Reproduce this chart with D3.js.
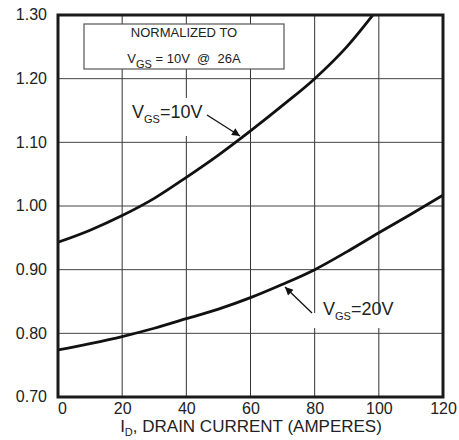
<!DOCTYPE html>
<html>
<head>
<meta charset="utf-8">
<script src="https://cdn.jsdelivr.net/npm/d3@7"></script>
<style>
  body { margin: 0; background: #fff; }
  svg { font-family: "Liberation Sans", Arial, sans-serif; }
</style>
</head>
<body>
<svg id="chart"></svg>
<script>
// values
const current = [0, 10, 20, 30, 40, 50, 60, 70, 80, 90, 100, 110, 120];
const vgs10 = [0.943, 0.962, 0.985, 1.012, 1.045, 1.080, 1.118, 1.158, 1.200, 1.250, 1.312];
const vgs20 = [0.774, 0.784, 0.795, 0.808, 0.823, 0.838, 0.856, 0.877, 0.900, 0.928, 0.958, 0.987, 1.017];
const xTicks = [0, 20, 40, 60, 80, 100, 120];
const yTicks = [0.70, 0.80, 0.90, 1.00, 1.10, 1.20, 1.30];

const width = 459;
const height = 440;
const margin = { top: 15, right: 16, bottom: 43, left: 58 };

const svg = d3.select("#chart").attr("width", width).attr("height", height);

const x = d3.scaleLinear().domain([0, 120]).range([margin.left, width - margin.right]);
const y = d3.scaleLinear().domain([0.7, 1.3]).range([height - margin.bottom, margin.top]);

// grid
svg.append("g")
  .selectAll("line")
  .data(xTicks.slice(1, -1))
  .join("line")
  .attr("x1", (d) => x(d)).attr("x2", (d) => x(d))
  .attr("y1", y(1.3)).attr("y2", y(0.7))
  .attr("stroke", "#333").attr("stroke-width", 1);

svg.append("g")
  .selectAll("line")
  .data(yTicks.slice(1, -1))
  .join("line")
  .attr("x1", x(0)).attr("x2", x(120))
  .attr("y1", (d) => y(d)).attr("y2", (d) => y(d))
  .attr("stroke", "#444").attr("stroke-width", 1);

// axes (labels only)
const yAxis = d3.axisLeft(y).tickValues(yTicks).tickFormat(d3.format(".2f")).tickSize(0).tickPadding(11);
const gy = svg.append("g").attr("transform", `translate(${margin.left},0)`).call(yAxis);
gy.select(".domain").remove();
gy.selectAll("text").attr("font-size", 16).attr("fill", "#222").attr("font-family", "Liberation Sans, Arial, sans-serif").attr("dy", "0.3em");

const xAxis = d3.axisBottom(x).tickValues(xTicks).tickSize(0).tickPadding(6);
const gx = svg.append("g").attr("transform", `translate(0,${height - margin.bottom})`).call(xAxis);
gx.select(".domain").remove();
gx.selectAll("text").attr("font-size", 16).attr("fill", "#222").attr("font-family", "Liberation Sans, Arial, sans-serif")
  .attr("dx", (d) => (d === 0 ? 4 : 0));

// axis title
const xt = svg.append("text")
  .attr("x", 251).attr("y", 432)
  .attr("text-anchor", "middle")
  .attr("font-size", 17).attr("fill", "#222");
xt.append("tspan").text("I");
xt.append("tspan").attr("font-size", 11).attr("dy", 4).text("D");
xt.append("tspan").attr("dy", -4).text(", DRAIN CURRENT (AMPERES)");

// curves
svg.append("clipPath").attr("id", "clip")
  .append("rect")
  .attr("x", x(0)).attr("y", y(1.3))
  .attr("width", x(120) - x(0)).attr("height", y(0.7) - y(1.3));

const line = d3.line()
  .x((d) => x(d[0]))
  .y((d) => y(d[1]))
  .curve(d3.curveMonotoneX);

[vgs10, vgs20].forEach((s) => {
  svg.append("path")
    .attr("clip-path", "url(#clip)")
    .attr("d", line(s.map((v, i) => [current[i], v])))
    .attr("fill", "none")
    .attr("stroke", "#111")
    .attr("stroke-width", 2.8);
});

// normalized box
svg.append("rect")
  .attr("x", 84).attr("y", 24).attr("width", 200).attr("height", 45)
  .attr("fill", "#fff").attr("stroke", "#555").attr("stroke-width", 1.2);
svg.append("text")
  .attr("x", 184).attr("y", 37).attr("text-anchor", "middle")
  .attr("font-size", 13).attr("fill", "#222")
  .text("NORMALIZED TO");
const nt = svg.append("text")
  .attr("x", 184).attr("y", 63).attr("text-anchor", "middle")
  .attr("font-size", 13).attr("fill", "#222");
nt.append("tspan").text("V");
nt.append("tspan").attr("font-size", 11).attr("dy", 5).text("GS");
nt.append("tspan").attr("dy", -5).attr("xml:space", "preserve").text(" = 10V  @  26A");

// arrow marker
svg.append("defs").append("marker")
  .attr("id", "arrow")
  .attr("viewBox", "0 0 10 10")
  .attr("refX", 10).attr("refY", 5)
  .attr("markerWidth", 11).attr("markerHeight", 8)
  .attr("markerUnits", "userSpaceOnUse")
  .attr("orient", "auto")
  .append("path").attr("d", "M0,0L10,5L0,10Z").attr("fill", "#111");

// labels
svg.append("rect").attr("x", 124).attr("y", 98).attr("width", 82).attr("height", 38).attr("fill", "#fff");
const l10 = svg.append("text").attr("x", 132).attr("y", 118).attr("font-size", 18).attr("fill", "#222");
l10.append("tspan").text("V");
l10.append("tspan").attr("font-size", 11).attr("dy", 5).text("GS");
l10.append("tspan").attr("dy", -5).text("=10V");

svg.append("line")
  .attr("x1", 207).attr("y1", 115).attr("x2", 240).attr("y2", 136)
  .attr("stroke", "#111").attr("stroke-width", 1.3)
  .attr("marker-end", "url(#arrow)");

svg.append("rect").attr("x", 308).attr("y", 313).attr("width", 90).attr("height", 15).attr("fill", "#fff");
const l20 = svg.append("text").attr("x", 323).attr("y", 315).attr("font-size", 18).attr("fill", "#222");
l20.append("tspan").text("V");
l20.append("tspan").attr("font-size", 11).attr("dy", 5).text("GS");
l20.append("tspan").attr("dy", -5).text("=20V");

svg.append("line")
  .attr("x1", 312).attr("y1", 313).attr("x2", 285).attr("y2", 287)
  .attr("stroke", "#111").attr("stroke-width", 1.3)
  .attr("marker-end", "url(#arrow)");

// frame
svg.append("rect")
  .attr("x", x(0)).attr("y", y(1.3))
  .attr("width", x(120) - x(0)).attr("height", y(0.7) - y(1.3))
  .attr("fill", "none").attr("stroke", "#1a1a1a").attr("stroke-width", 3);
</script>
</body>
</html>
